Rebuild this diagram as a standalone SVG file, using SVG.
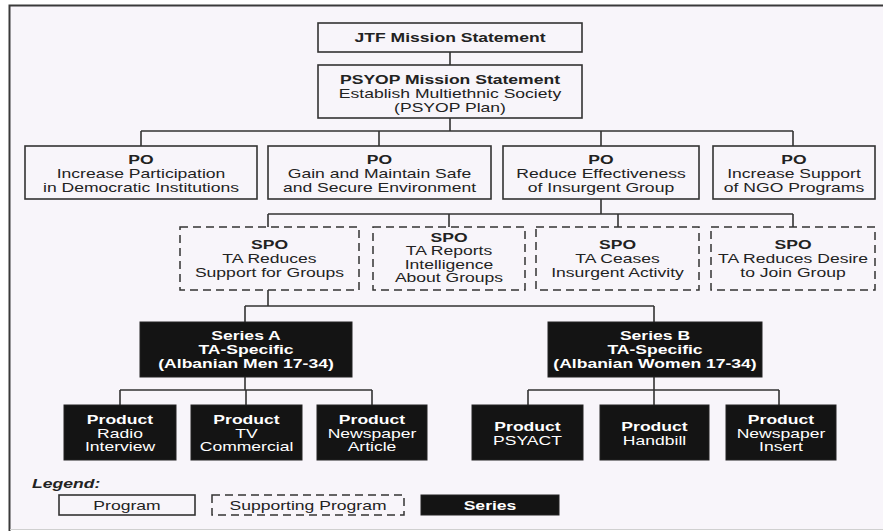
<svg xmlns="http://www.w3.org/2000/svg" width="883" height="531" viewBox="0 0 883 531">
<style>
.t{font-family:"Liberation Sans",Arial,sans-serif;font-size:13px;fill:#222;text-anchor:middle}
.b{font-weight:bold}
.w{fill:#fff}
.box{fill:#f8f5fa;stroke:#333;stroke-width:1.6}
.dash{fill:#f8f5fa;stroke:#333;stroke-width:1.5;stroke-dasharray:8 5}
.blk{fill:#141414;stroke:#222;stroke-width:1}
.ln{fill:none;stroke:#333;stroke-width:1.6}
</style>
<rect x="0" y="0" width="883" height="531" fill="#fff"/>
<rect x="10" y="6" width="873" height="523" fill="#f8f5fa"/>
<path d="M9.5,531V5.5H883" fill="none" stroke="#3a3a3a" stroke-width="2"/>
<path d="M10,529.5H883" fill="none" stroke="#d0d0d0" stroke-width="1"/>
<g id="connectors" class="ln">
<path class="ln" d="M450,52V65M450,118V131M141,131H793M141,131V146M379,131V146M601,131V146M793,131V146"/>
<path class="ln" d="M601,199V214M268,214H793M268,214V227M449,214V227M618,214V227M793,214V227"/>
<path class="ln" d="M268,290V306M245,306H654M245,306V322M654,306V322"/>
<path class="ln" d="M245,377V390M120,390H372M120,390V405M246,390V405M372,390V405"/>
<path class="ln" d="M654,377V390M528,390H779M528,390V405M654,390V405M779,390V405"/>
</g>
<g id="jtf"><rect class="box" x="318" y="23" width="264" height="29"/>
<g transform="translate(450,0) scale(1.35,1)"><text class="t b" x="0" y="42">JTF Mission Statement</text></g></g>
<g id="psyop"><rect class="box" x="318" y="65" width="264" height="53"/>
<g transform="translate(450,0) scale(1.35,1)"><text class="t b" x="0" y="84">PSYOP Mission Statement</text><text class="t" x="0" y="98">Establish Multiethnic Society</text><text class="t" x="0" y="112">(PSYOP Plan)</text></g></g>
<g id="po1"><rect class="box" x="25" y="146" width="232" height="53"/>
<g transform="translate(141,0) scale(1.35,1)"><text class="t b" x="0" y="164">PO</text><text class="t" x="0" y="178">Increase Participation</text><text class="t" x="0" y="192">in Democratic Institutions</text></g></g>
<g id="po2"><rect class="box" x="268" y="146" width="223" height="53"/>
<g transform="translate(379.5,0) scale(1.35,1)"><text class="t b" x="0" y="164">PO</text><text class="t" x="0" y="178">Gain and Maintain Safe</text><text class="t" x="0" y="192">and Secure Environment</text></g></g>
<g id="po3"><rect class="box" x="503" y="146" width="196" height="53"/>
<g transform="translate(601,0) scale(1.35,1)"><text class="t b" x="0" y="164">PO</text><text class="t" x="0" y="178">Reduce Effectiveness</text><text class="t" x="0" y="192">of Insurgent Group</text></g></g>
<g id="po4"><rect class="box" x="713" y="146" width="162" height="53"/>
<g transform="translate(794,0) scale(1.35,1)"><text class="t b" x="0" y="164">PO</text><text class="t" x="0" y="178">Increase Support</text><text class="t" x="0" y="192">of NGO Programs</text></g></g>
<g id="spo1"><rect class="dash" x="180" y="227" width="179" height="63"/>
<g transform="translate(269.5,0) scale(1.35,1)"><text class="t b" x="0" y="249">SPO</text><text class="t" x="0" y="263">TA Reduces</text><text class="t" x="0" y="277">Support for Groups</text></g></g>
<g id="spo2"><rect class="dash" x="373" y="227" width="152" height="63"/>
<g transform="translate(449,0) scale(1.35,1)"><text class="t b" x="0" y="242">SPO</text><text class="t" x="0" y="255.5">TA Reports</text><text class="t" x="0" y="269">Intelligence</text><text class="t" x="0" y="282.5">About Groups</text></g></g>
<g id="spo3"><rect class="dash" x="536" y="227" width="163" height="63"/>
<g transform="translate(617.5,0) scale(1.35,1)"><text class="t b" x="0" y="249">SPO</text><text class="t" x="0" y="263">TA Ceases</text><text class="t" x="0" y="277">Insurgent Activity</text></g></g>
<g id="spo4"><rect class="dash" x="711" y="227" width="164" height="63"/>
<g transform="translate(793,0) scale(1.35,1)"><text class="t b" x="0" y="249">SPO</text><text class="t" x="0" y="263">TA Reduces Desire</text><text class="t" x="0" y="277">to Join Group</text></g></g>
<g id="seriesA"><rect class="blk" x="140" y="322" width="212" height="55"/>
<g transform="translate(246,0) scale(1.35,1)"><text class="t b w" x="0" y="340">Series A</text><text class="t b w" x="0" y="354">TA-Specific</text><text class="t b w" x="0" y="368">(Albanian Men 17-34)</text></g></g>
<g id="seriesB"><rect class="blk" x="548" y="322" width="214" height="55"/>
<g transform="translate(655,0) scale(1.35,1)"><text class="t b w" x="0" y="340">Series B</text><text class="t b w" x="0" y="354">TA-Specific</text><text class="t b w" x="0" y="368">(Albanian Women 17-34)</text></g></g>
<g id="p1"><rect class="blk" x="64" y="405" width="112" height="55"/>
<g transform="translate(120,0) scale(1.35,1)"><text class="t b w" x="0" y="424">Product</text><text class="t w" x="0" y="438">Radio</text><text class="t w" x="0" y="451.5">Interview</text></g></g>
<g id="p2"><rect class="blk" x="191" y="405" width="111" height="55"/>
<g transform="translate(246.5,0) scale(1.35,1)"><text class="t b w" x="0" y="424">Product</text><text class="t w" x="0" y="438">TV</text><text class="t w" x="0" y="451.5">Commercial</text></g></g>
<g id="p3"><rect class="blk" x="317" y="405" width="110" height="55"/>
<g transform="translate(372,0) scale(1.35,1)"><text class="t b w" x="0" y="424">Product</text><text class="t w" x="0" y="438">Newspaper</text><text class="t w" x="0" y="451.5">Article</text></g></g>
<g id="p4"><rect class="blk" x="472" y="405" width="111" height="55"/>
<g transform="translate(527.5,0) scale(1.35,1)"><text class="t b w" x="0" y="431">Product</text><text class="t w" x="0" y="445">PSYACT</text></g></g>
<g id="p5"><rect class="blk" x="600" y="405" width="109" height="55"/>
<g transform="translate(654.5,0) scale(1.35,1)"><text class="t b w" x="0" y="431">Product</text><text class="t w" x="0" y="445">Handbill</text></g></g>
<g id="p6"><rect class="blk" x="726" y="405" width="110" height="55"/>
<g transform="translate(781,0) scale(1.35,1)"><text class="t b w" x="0" y="424">Product</text><text class="t w" x="0" y="438">Newspaper</text><text class="t w" x="0" y="451.5">Insert</text></g></g>
<g id="legend">
<g transform="translate(32,0) scale(1.35,1)"><text class="t b" x="0" y="488" style="text-anchor:start;font-style:italic">Legend:</text></g>
<rect class="box" x="59" y="495" width="136" height="20"/>
<g transform="translate(127,0) scale(1.35,1)"><text class="t" x="0" y="510">Program</text></g>
<rect class="dash" x="212" y="495" width="192" height="20"/>
<g transform="translate(308,0) scale(1.35,1)"><text class="t" x="0" y="510">Supporting Program</text></g>
<rect class="blk" x="421" y="495" width="138" height="20"/>
<g transform="translate(490,0) scale(1.35,1)"><text class="t b w" x="0" y="510">Series</text></g>
</g>
</svg>
